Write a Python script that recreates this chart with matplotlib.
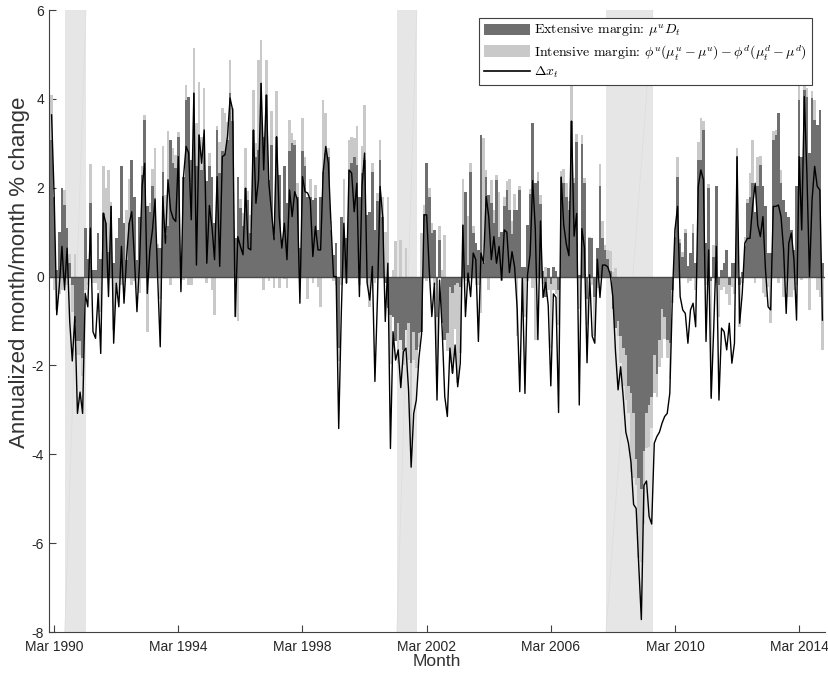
import numpy as np
import matplotlib
matplotlib.use("Agg")
import matplotlib.pyplot as plt
from matplotlib.patches import Patch
from matplotlib.lines import Line2D

plt.rcParams['font.family'] = ['Liberation Sans', 'DejaVu Sans']
plt.rcParams['mathtext.fontset'] = 'cm'
plt.rcParams['axes.unicode_minus'] = False

# ---------------- data (monthly, Feb 1990 .. Dec 2014) ----------------
first_month = "Feb 1990"

extensive = [
    3.08, 1.80, 0.15, 1.00, 2.00, 1.60, 1.10, 0.30, -0.20, -1.05,
    -1.46, -1.46, -1.84, 1.10, 0.40, 1.65, 0.15, 0.15, 0.98, 0.40,
    1.43, 1.20, 0.56, 1.58, 0.30, 0.86, 1.31, 2.48, 1.20, 0.38,
    1.20, 2.63, 1.80, 0.38, 1.35, 2.29, 3.53, 1.58, 1.46, 2.03,
    1.76, 0.64, 0.64, 2.36, 0.94, 1.13, 3.08, 2.55, 2.44, 3.15,
    0.23, 2.25, 3.98, 4.05, 2.63, 4.13, 2.48, 3.19, 2.40, 3.00,
    2.14, 2.48, 2.25, 1.20, 3.30, 2.33, 2.82, 2.78, 3.08, 4.13,
    3.50, 0.86, 2.25, 1.54, 1.13, 1.99, 1.73, 0.98, 3.30, 2.70,
    2.85, 4.35, 3.15, 4.09, 2.18, 2.97, 0.90, 3.15, 2.29, 0.75,
    2.48, 1.65, 2.82, 3.00, 2.97, 1.80, 0.64, 2.82, 2.48, 1.80,
    1.80, 1.73, 1.76, 1.05, 1.80, 2.36, 2.78, 2.70, 1.05, 0.49,
    0.75, -1.60, 1.35, 0.86, 0.86, 2.40, 2.55, 2.70, 2.52, 1.80,
    2.33, 2.63, 1.39, 1.46, 2.36, 1.05, 1.69, 2.63, 1.35, -0.15,
    -0.71, -0.86, -0.90, -1.46, -1.05, -1.43, -1.65, -1.20, -1.05, -1.95,
    -1.24, -1.65, -1.28, -1.24, 1.40, 2.55, 1.80, 0.98, 1.05, -0.90,
    0.83, -1.05, -1.43, -1.28, -0.23, -0.38, -0.19, -0.15, -0.23, 1.16,
    1.91, 0.26, 2.36, 0.98, 0.75, 0.60, 3.19, 0.30, 2.25, 1.84,
    1.65, 1.20, 2.18, 0.90, 1.00, 1.58, 1.94, 1.50, 0.95, 1.50,
    1.50, 1.94, 0.22, 0.22, 1.16, 1.86, 3.45, 2.10, 2.16, 1.64,
    0.13, -0.47, 0.20, -0.17, 0.22, 0.13, -0.30, 2.24, 2.11, 1.80,
    1.50, 3.50, 2.11, 3.02, 0.04, 2.98, 2.11, -0.50, 0.86, 0.86,
    -0.47, 0.65, 2.03, 0.86, 0.60, 0.39, 0.13, -0.73, -1.16, -0.99,
    -1.34, -1.60, -1.77, -2.46, -2.63, -3.06, -4.10, -4.53, -4.79, -3.93,
    -3.06, -2.89, -2.72, -1.77, -2.20, -1.43, -0.73, -0.90, -1.43, -1.50,
    -0.30, 0.90, 2.25, 0.75, 0.45, 0.98, 0.23, 0.53, 0.98, 0.30,
    2.63, 2.63, 3.30, 0.75, 1.99, -0.10, 0.45, 2.03, -0.20, 0.15,
    0.30, 0.60, -0.20, 0.30, 0.30, 2.70, -0.20, 0.10, 0.68, 1.65,
    1.80, 2.10, 1.46, 2.03, 2.52, 2.03, 1.58, 0.53, 0.53, 3.08,
    3.19, 3.68, 2.10, 1.73, 1.46, 1.35, 1.05, 0.60, 2.03, 3.98,
    2.70, 4.20, 4.05, 2.78, 4.02, 3.53, 3.42, 3.75, 0.30,
]

intensive = [
    1.00, -0.30, -0.75, -0.40, -0.30, 0.35, -0.20, 0.20, -0.60, 0.50,
    -0.30, -0.30, -0.40, -0.30, -0.20, 0.88, -0.15, -0.15, -0.30, -0.80,
    1.05, 0.80, 1.84, 0.10, -1.20, -0.30, -0.40, -0.20, -0.50, 1.12,
    1.00, -0.20, -0.10, -0.30, -0.38, 0.20, 0.11, -1.24, 0.20, 0.40,
    1.13, 0.10, -0.50, 0.57, 0.90, 2.14, -0.20, 0.34, 0.30, 0.10,
    -0.30, -0.08, 0.34, -0.20, -0.20, 1.01, 0.97, 1.20, 0.75, 1.24,
    -0.15, 0.30, -0.30, -0.86, 0.10, 0.70, 0.97, 0.90, 0.40, 0.75,
    0.30, -0.90, -1.00, 0.20, 0.30, 0.90, 0.20, 0.40, 0.90, 0.30,
    2.03, 0.98, -0.30, 0.79, -0.10, 0.75, -0.25, 1.02, -0.25, 0.10,
    -0.05, -0.25, 0.71, 0.23, 0.10, 0.30, -0.15, 0.75, 0.22, -0.50,
    0.40, -0.15, 0.30, -0.23, -0.68, 1.62, 0.90, 0.20, 0.20, -0.10,
    -0.20, -0.30, -0.20, 1.34, -0.15, 0.68, 0.60, 0.42, 0.86, -0.20,
    0.60, 1.24, -0.15, -0.68, 0.20, -0.15, 0.20, 0.45, 0.45, 1.00,
    1.80, -1.10, 0.15, 0.79, -0.90, 0.83, -0.35, 0.64, -0.83, -1.80,
    -0.64, -0.40, -0.30, 0.98, 0.20, -0.10, 0.20, 0.22, -0.20, -1.05,
    0.30, 0.15, 0.94, -0.40, -1.72, -1.80, -1.00, -2.25, -1.50, 1.04,
    -0.10, 1.10, 0.20, 0.15, -0.20, -0.20, -0.83, 2.82, 0.15, -0.30,
    0.53, 0.30, 0.10, 1.00, -0.10, 0.20, 0.20, 0.70, 0.30, 0.36,
    -1.34, 0.10, -0.80, -0.90, -0.10, 0.10, -0.26, -1.42, 0.20, 0.20,
    -0.17, 0.22, -0.30, -1.43, -0.30, -0.40, -0.80, 0.13, 0.30, 0.30,
    0.20, 0.86, 0.10, 0.20, -0.73, 0.20, 0.10, -0.60, 0.04, -0.20,
    -0.87, -0.26, 0.50, 0.40, 0.10, 0.20, 0.45, 0.10, 0.20, -0.35,
    -0.60, -0.86, -1.01, -0.60, -1.77, -1.47, -0.60, -1.81, -1.64, -1.64,
    -0.80, -0.95, -0.68, -0.86, -0.50, -0.60, -1.10, -0.50, -0.40, -0.80,
    -0.30, 0.20, 0.45, 0.10, 0.10, 0.10, -0.15, -0.10, 0.20, -0.30,
    0.40, 0.94, 0.20, -0.20, 0.10, -2.60, 0.26, -0.15, -0.70, -0.30,
    -0.23, -0.40, -0.45, -0.23, -0.40, 0.19, -0.93, -0.15, 0.20, 0.10,
    0.53, 0.98, -0.15, 0.67, 0.20, -0.38, -0.45, -0.23, -1.05, 0.20,
    0.10, -0.15, 0.30, -0.45, -0.30, -0.45, -0.45, -0.30, -0.20, 0.30,
    -0.08, 0.15, 0.20, -0.75, 0.15, 0.45, -0.30, -0.45, -1.65,
]

delta_x = [
    3.64, 1.80, -0.86, -0.20, 0.68, -0.30, 0.64, -1.00, -1.90, -0.90,
    -3.08, -2.60, -3.08, -0.38, -0.68, 1.09, -1.24, -1.39, -0.38, -1.73,
    1.43, 1.20, -0.45, 1.58, -1.50, -0.15, -0.68, 0.68, -0.60, 0.45,
    1.20, 1.46, 0.45, -0.79, 0.30, 2.03, 2.55, -0.38, 0.60, 1.05,
    1.73, 0.00, -1.58, 1.80, 0.75, 2.18, 1.50, 1.31, 1.24, 2.70,
    -0.34, 2.25, 2.93, 2.78, 1.28, 4.13, 0.26, 3.19, 2.55, 3.30,
    0.30, 1.60, 1.13, 0.38, 2.25, 0.23, 2.70, 2.74, 3.15, 4.02,
    3.75, -0.90, 0.90, 0.68, 0.49, 1.99, 0.64, 0.60, 3.30, 1.65,
    2.18, 4.35, 2.40, 4.09, 2.10, 1.46, 0.83, 3.15, 1.35, 0.64,
    1.20, 0.38, 1.95, 1.35, 1.91, 1.73, -0.60, 2.25, 1.91, 1.88,
    1.73, 0.45, 1.13, 0.60, 0.60, 2.36, 2.93, 2.55, 1.20, 0.00,
    0.00, -3.42, -0.83, 1.20, -0.15, 2.40, 2.33, 1.46, 2.10, -0.45,
    2.03, 2.78, -0.15, -0.53, 0.23, -2.36, -0.45, 2.03, 1.35, -1.01,
    0.30, -3.87, -1.24, -1.88, -1.65, -2.50, -1.69, -1.61, -2.55, -4.29,
    -3.08, -2.78, -1.84, -1.31, 1.39, 1.39, 0.15, -0.90, -0.15, -2.78,
    -0.08, -1.20, -2.70, -3.15, -1.61, -2.18, -1.54, -2.48, -1.95, 1.16,
    -0.90, 0.08, -0.45, 0.53, 0.38, -1.46, 0.53, 0.30, 1.80, 1.35,
    0.38, 0.90, 0.30, 0.68, -0.08, 1.05, 1.00, 0.09, 0.56, 0.22,
    -0.73, -2.59, -0.04, -2.63, 0.04, 0.50, 2.16, 1.08, -1.42, 1.25,
    -0.47, -0.13, -0.65, -2.46, -0.39, -0.47, -3.06, 2.24, 1.16, 0.73,
    0.47, 3.50, 0.91, 1.42, -2.89, 1.08, 0.65, -1.94, 0.04, -1.34,
    -1.50, 0.39, -0.47, 0.26, 0.26, 0.22, 0.04, -0.47, -1.68, -2.55,
    -2.03, -2.72, -3.50, -3.75, -4.18, -5.13, -5.22, -6.51, -7.72, -4.70,
    -4.60, -5.40, -5.57, -3.75, -3.60, -3.50, -3.30, -3.15, -3.08, -2.63,
    -0.45, 1.05, 1.58, -0.45, -0.75, -0.83, -1.50, -0.75, -0.60, -1.13,
    2.03, 2.40, 2.18, -1.46, 0.60, -2.74, -1.13, 0.68, -2.78, -1.16,
    -1.24, -1.65, -1.05, -1.95, -1.50, 2.70, -1.05, -0.38, 0.75, 0.86,
    0.86, 1.58, 2.10, 1.16, 0.90, 1.35, 0.15, -0.68, -0.75, 1.58,
    1.58, 1.61, 1.35, 0.60, -0.83, 0.75, 0.98, 0.38, -0.98, 2.70,
    1.05, 4.05, 2.33, 0.00, 1.73, 2.48, 2.03, 1.95, -0.98,
]

# recessions in month-index units (0 = Jan 1990)
recession_start = [6.1, 134.5, 215.3]
recession_end = [14.3, 142.2, 233.5]

tick_months = [2, 50, 98, 146, 194, 242, 290]
tick_labels = ["Mar 1990", "Mar 1994", "Mar 1998", "Mar 2002",
               "Mar 2006", "Mar 2010", "Mar 2014"]

legend_labels = [r"Extensive margin: $\mu^u D_t$",
                 r"Intensive margin: $\phi^u(\mu^u_t - \mu^u) - \phi^d(\mu^d_t - \mu^d)$",
                 r"$\Delta x_t$"]

# ---------------- plotting ----------------
E = np.array(extensive)
I = np.array(intensive)
D = np.array(delta_x)
x = np.arange(1, len(E) + 1)

dark = "#6f6f6f"
light = "#c9c9c9"
shade = "#e6e6e6"

fig = plt.figure(figsize=(8.29, 6.79), dpi=100)
ax = fig.add_axes([49 / 829, 1 - 632 / 679, 776 / 829, 622 / 679])

for s, e in zip(recession_start, recession_end):
    ax.axvspan(s, e, color=shade, lw=0, zorder=0)
    ax.plot([s, e], [-8, 6], color="#dddddd", lw=0.5, zorder=0.5)

ax.bar(x, E, width=1.0, color=dark, lw=0, zorder=2)
bottom_I = np.where(np.sign(I) == np.sign(E), E, 0.0)
ax.bar(x, I, width=1.0, bottom=bottom_I, color=light, lw=0, zorder=2)
ax.axhline(0, color="#4a4a4a", lw=1.0, zorder=3)
ax.plot(x, D, color="black", lw=1.0, zorder=4)

ax.set_xlim(0, 300)
ax.set_ylim(-8, 6)
ax.set_yticks(np.arange(-8, 7, 2))
ax.set_yticklabels([str(v) for v in range(-8, 7, 2)])
ax.set_xticks(tick_months)
ax.set_xticklabels(tick_labels)

for sp in ["top", "right"]:
    ax.spines[sp].set_visible(False)
for sp in ["left", "bottom"]:
    ax.spines[sp].set_color("#404040")
    ax.spines[sp].set_linewidth(0.8)
    ax.spines[sp].set_zorder(5)

ax.tick_params(axis="both", direction="in", length=5, width=0.8,
               color="#404040", labelcolor="#262626", labelsize=10)
ax.tick_params(axis="x", pad=6)

ax.set_xlabel("Month", fontsize=12.5, color="#333333")
ax.xaxis.label.set_va("center")
ax.xaxis.set_label_coords(0.5, (632 - 662) / 622)
ax.set_ylabel("Annualized month/month % change", fontsize=16, color="#333333")
ax.yaxis.label.set_va("center")
ax.yaxis.set_label_coords((19.5 - 49) / 776, (632 - 272) / 622)

handles = [Patch(facecolor=dark, edgecolor="none"),
           Patch(facecolor=light, edgecolor="none"),
           Line2D([0], [0], color="black", lw=1.2)]
leg = ax.legend(handles, legend_labels, loc="upper right",
                bbox_to_anchor=(812 / 829, 1 - 18 / 679),
                bbox_transform=fig.transFigure, borderaxespad=0,
                frameon=True, fancybox=False, framealpha=1,
                edgecolor="#404040", prop={"family": "cmr10", "size": 10},
                handlelength=3.3, handleheight=0.9, handletextpad=0.3,
                labelspacing=0.25, borderpad=0.35)
leg.get_frame().set_linewidth(0.8)
leg.set_zorder(10)

fig.savefig("out.png", dpi=100, facecolor="white")
